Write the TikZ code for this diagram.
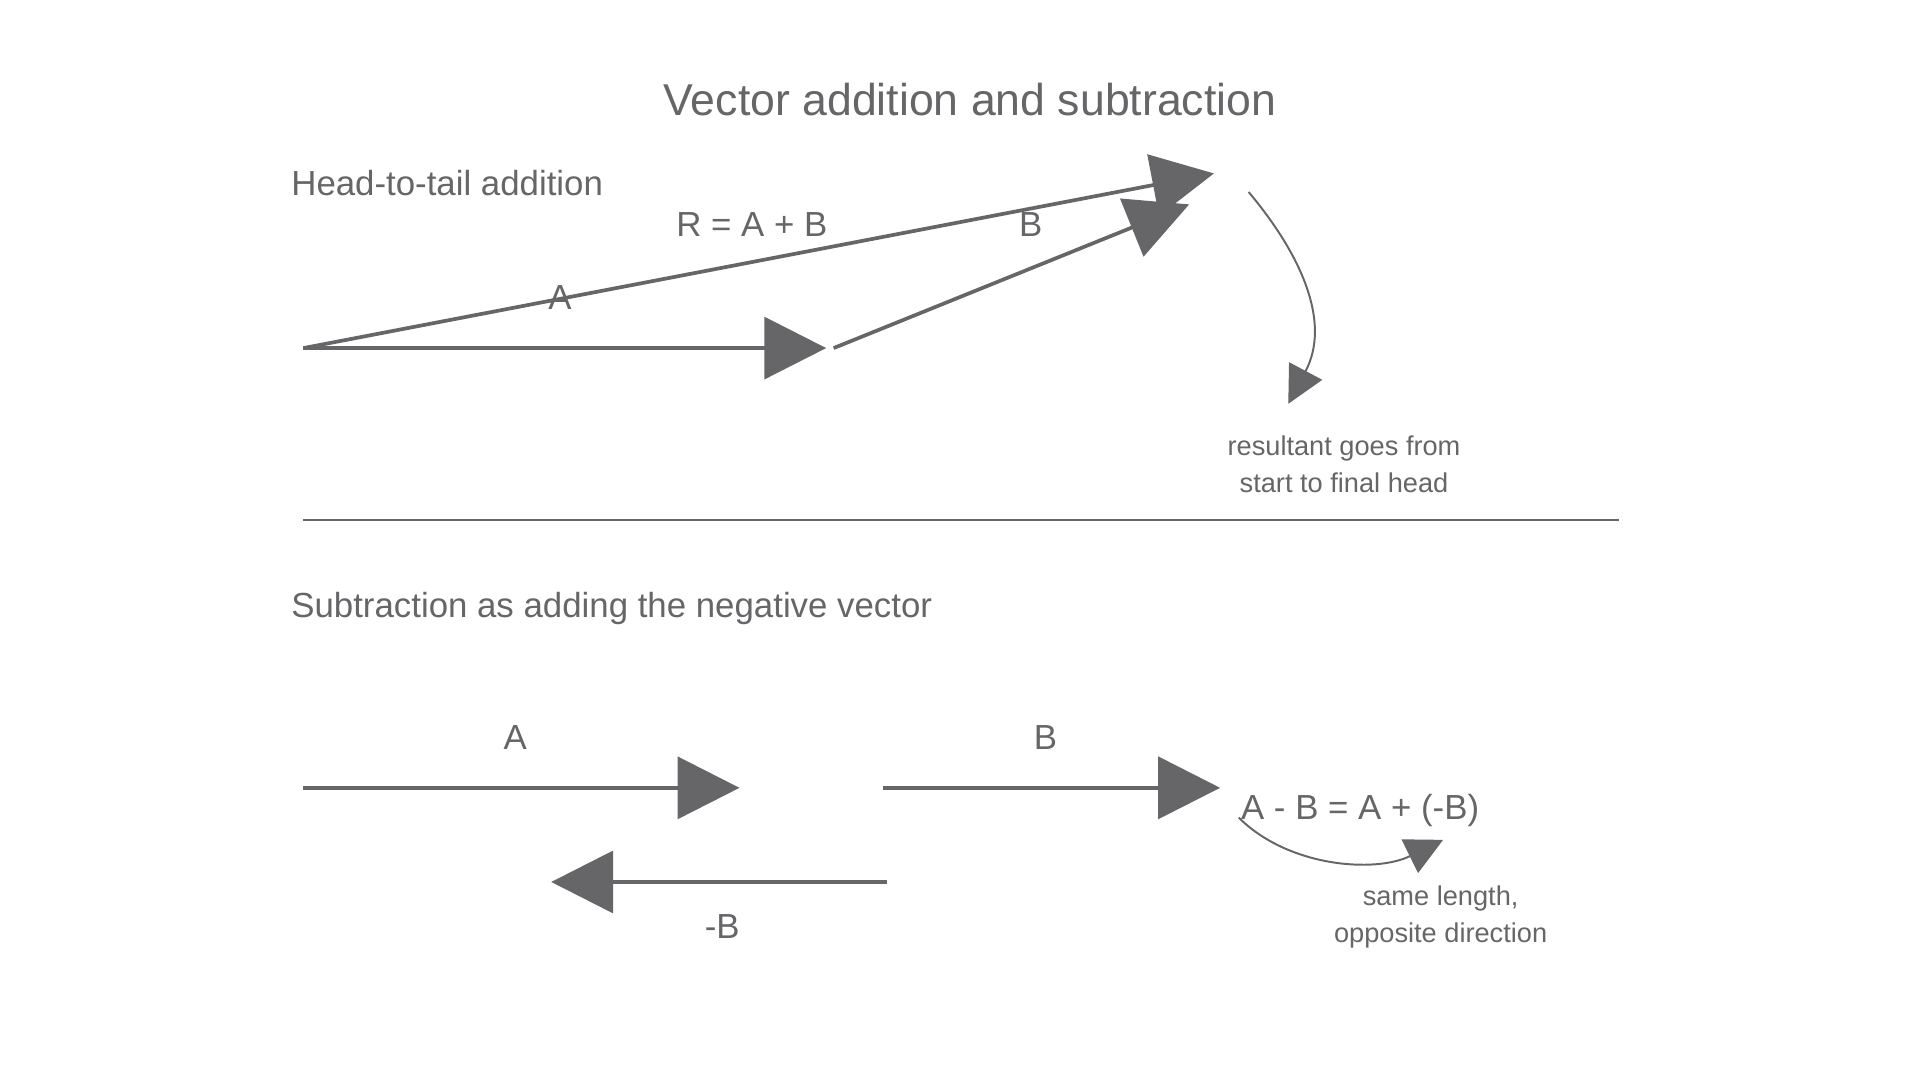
\documentclass[tikz,border=0pt]{standalone}
\usepackage{fontspec}
\setmainfont{Liberation Sans}
\usetikzlibrary{arrows.meta}
\definecolor{ink}{HTML}{666668}
\tikzset{
  vec/.style={ink, line width=1.7pt, -{Triangle[length=1cm,width=1cm]}},
  note/.style={ink, line width=0.9pt, -{Triangle[length=0.6cm,width=0.6cm]}},
  lbl/.style={text=ink, font=\fontsize{16}{19}\selectfont},
  small/.style={text=ink, font=\fontsize{12.5}{17}\selectfont, align=center},
}
\begin{document}
\begin{tikzpicture}[x=0.02cm,y=-0.02cm]
\useasboundingbox (0,0) rectangle (1550,872);
% Title and headings
\node[text=ink, font=\fontsize{20.5}{24}\selectfont] (title) at (783,80) {Vector addition and subtraction};
\node[lbl, anchor=west] (head1) at (229,148) {Head-to-tail addition};
\node[lbl, anchor=west] (head2) at (229,491) {Subtraction as adding the negative vector};

% Head-to-tail addition
\coordinate (o) at (245,281);
\coordinate (a) at (667,281);
\coordinate (b0) at (673,281);
\coordinate (r) at (980,140);
\draw[vec] (o) -- (a);
\draw[vec] (b0) -- (960,165);
\draw[vec] (o) -- (r);
\node[lbl] (lr) at (607,181) {R = A + B};
\node[lbl] (lb) at (832,181) {B};
\node[lbl] (la) at (452,240) {A};

% Note on resultant
\coordinate (n1) at (1008,155);
\coordinate (n2) at (1040,326);
\draw[note] (n1) .. controls (1050,205) and (1075,260) .. (n2);
\node[small] (t1) at (1085,375) {resultant goes from\\start to final head};

% Divider
\draw[ink, line width=0.9pt] (245,420) -- (1307,420);

% Subtraction
\draw[vec] (245,636) -- (597,636);
\draw[vec] (713,636) -- (985,636);
\draw[vec] (716,712) -- (445,712);
\node[lbl] (la2) at (416,595) {A};
\node[lbl] (lb2) at (844,595) {B};
\node[lbl] (lnb) at (583,748) {-B};
\node[lbl] (eq) at (1098,654) {A - B = A + (-B)};

% Note on negative
\coordinate (m1) at (1000,660);
\coordinate (m2) at (1165,678);
\draw[note] (m1) .. controls (1040,700) and (1110,705) .. (m2);
\node[small] (t2) at (1163,740) {same length,\\opposite direction};
\end{tikzpicture}
\end{document}
